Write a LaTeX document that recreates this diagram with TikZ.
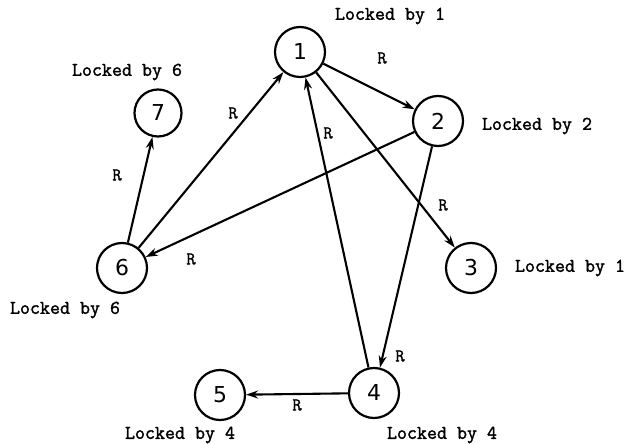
\documentclass[tikz,border=0pt]{standalone}
\usepackage{fontspec}
\newfontfamily\numfont{DejaVu Sans}
\newfontfamily\lblfont[FakeBold=1.6]{Latin Modern Mono}
\usetikzlibrary{arrows.meta}
\tikzset{
  state/.style={circle, draw, line width=2.2bp, minimum size=50bp, inner sep=0pt,
    font=\numfont\fontsize{22}{22}\selectfont},
  smallstate/.style={state, minimum size=47bp},
  conn/.style={line width=2.1bp, -{Stealth[length=12bp,width=8bp]}},
  lbl/.style={font=\lblfont\fontsize{19.5}{20}\selectfont, inner sep=0pt},
  rlbl/.style={font=\lblfont\fontsize{18}{18}\selectfont, inner sep=0pt}
}
\begin{document}
\begin{tikzpicture}[x=1bp,y=-1bp]
\useasboundingbox (0,0) rectangle (627,444);
\node[state] (n1) at (300,52) {1};
\node[state] (n2) at (438,121) {2};
\node[state] (n3) at (471,268) {3};
\node[state] (n4) at (374,393) {4};
\node[state] (n5) at (220,395) {5};
\node[state] (n6) at (122,268) {6};
\node[smallstate] (n7) at (158,113) {7};

\node[lbl] (l1) at (390,16) {Locked by 1};
\node[lbl] (l2) at (537,126) {Locked by 2};
\node[lbl] (l3) at (570,268) {Locked by 1};
\node[lbl] (l7) at (127,72) {Locked by 6};
\node[lbl] (l6) at (65,310) {Locked by 6};
\node[lbl] (l5) at (180,435) {Locked by 4};
\node[lbl] (l4) at (442,435) {Locked by 4};

\draw[conn] (n1) -- (n2);
\draw[conn] (n1) -- (n3);
\draw[conn] (n2) -- (n6);
\draw[conn] (n2) -- (n4);
\draw[conn] (n4) -- (n1);
\draw[conn] (n4) -- (n5);
\draw[conn] (n6) -- (n1);
\draw[conn] (n6) -- (n7);

\node[rlbl] (r12) at (382,58) {R};
\node[rlbl] (r41) at (328,133) {R};
\node[rlbl] (r61) at (233,113) {R};
\node[rlbl] (r67) at (117,175) {R};
\node[rlbl] (r26) at (191,259) {R};
\node[rlbl] (r13) at (443,205) {R};
\node[rlbl] (r24) at (400,356) {R};
\node[rlbl] (r45) at (297,405) {R};
\end{tikzpicture}
\end{document}
